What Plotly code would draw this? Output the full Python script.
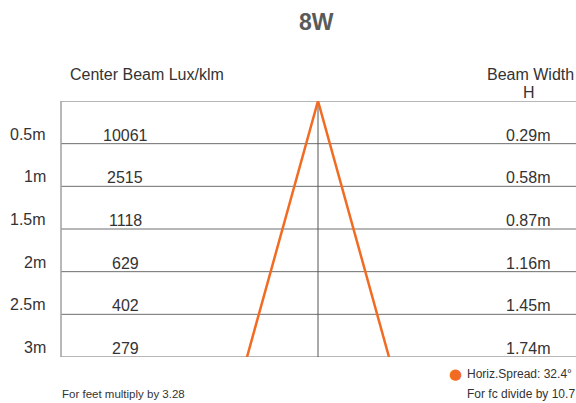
import plotly.graph_objects as go

title = "8W"
distances = [0.5, 1.0, 1.5, 2.0, 2.5, 3.0]
distance_labels = ["0.5m", "1m", "1.5m", "2m", "2.5m", "3m"]
lux_values = ["10061", "2515", "1118", "629", "402", "279"]
beam_widths = [0.29, 0.58, 0.87, 1.16, 1.45, 1.74]
beam_width_labels = ["0.29m", "0.58m", "0.87m", "1.16m", "1.45m", "1.74m"]
spread_label = "Horiz.Spread: 32.4°"

ORANGE = "#F26B22"
FONT = "Liberation Sans, Arial, sans-serif"
TXT = "#333333"

W, H = 576, 403
L, R, T, B = 61, 0, 101, 46
pw = W - L - R
ph = H - T - B

def px(x):
    return (x - L) / pw

def py(y):
    return 1 + (T - y) / ph

max_d = distances[-1]
half_w = beam_widths[-1] / 2

fig = go.Figure()
fig.add_trace(go.Scatter(
    x=[-half_w, 0, half_w],
    y=[max_d, 0, max_d],
    mode="lines",
    line=dict(color=ORANGE, width=2.5),
    showlegend=False,
    hoverinfo="skip",
))

shapes = []
for d in [0] + distances:
    shapes.append(dict(type="line", xref="paper", yref="y", x0=0, x1=1, y0=d, y1=d,
                       line=dict(color="#6e6e6e", width=1), layer="below"))
shapes.append(dict(type="line", xref="x", yref="y", x0=0, x1=0, y0=0, y1=max_d,
                   line=dict(color="#555555", width=1), layer="below"))
shapes.append(dict(type="line", xref="paper", yref="y", x0=0, x1=0, y0=0, y1=max_d,
                   line=dict(color="#a0a0a0", width=1.5), layer="below"))

ann = []
for d, dl, lv, bl in zip(distances, distance_labels, lux_values, beam_width_labels):
    ann.append(dict(text=dl, xref="paper", yref="y", x=px(48), y=d, xanchor="right",
                    yanchor="bottom", yshift=-1, showarrow=False, font=dict(size=16, color=TXT, family=FONT)))
    ann.append(dict(text=lv, xref="paper", yref="y", x=px(125), y=d, xanchor="center",
                    yanchor="bottom", yshift=-2, showarrow=False, font=dict(size=16, color=TXT, family=FONT)))
    ann.append(dict(text=bl, xref="paper", yref="y", x=px(552), y=d, xanchor="right",
                    yanchor="bottom", yshift=-2, showarrow=False, font=dict(size=16, color=TXT, family=FONT)))

ann += [
    dict(text="<b>" + title + "</b>", xref="paper", yref="paper", x=px(316), y=py(22),
         xanchor="center", yanchor="middle", showarrow=False,
         font=dict(size=23, color="#5a5a5a", family=FONT)),
    dict(text="Center Beam Lux/klm", xref="paper", yref="paper", x=px(147), y=py(74),
         xanchor="center", yanchor="middle", showarrow=False,
         font=dict(size=16, color=TXT, family=FONT)),
    dict(text="Beam Width", xref="paper", yref="paper", x=px(576), y=py(74),
         xanchor="right", yanchor="middle", showarrow=False,
         font=dict(size=16, color=TXT, family=FONT)),
    dict(text="H", xref="paper", yref="paper", x=px(529), y=py(92),
         xanchor="center", yanchor="middle", showarrow=False,
         font=dict(size=16, color=TXT, family=FONT)),
    dict(text="●", xref="paper", yref="paper", x=px(455), y=py(374),
         xanchor="center", yanchor="middle", showarrow=False,
         font=dict(size=15, color=ORANGE, family="DejaVu Sans")),
    dict(text=spread_label, xref="paper", yref="paper", x=px(465), y=py(374),
         xanchor="left", yanchor="middle", showarrow=False,
         font=dict(size=12, color=TXT, family=FONT)),
    dict(text="For feet multiply by 3.28", xref="paper", yref="paper", x=px(60), y=py(394),
         xanchor="left", yanchor="middle", showarrow=False,
         font=dict(size=11.5, color=TXT, family=FONT)),
    dict(text="For fc divide by 10.7", xref="paper", yref="paper", x=px(577), y=py(394),
         xanchor="right", yanchor="middle", showarrow=False,
         font=dict(size=12, color=TXT, family=FONT)),
]

x_per_px = half_w / 71.0
fig.update_layout(
    width=W, height=H,
    margin=dict(l=L, r=R, t=T, b=B),
    paper_bgcolor="white", plot_bgcolor="white",
    xaxis=dict(range=[-(318 - L) * x_per_px, (W - R - 318) * x_per_px], visible=False, fixedrange=True),
    yaxis=dict(range=[max_d, 0], visible=False, fixedrange=True),
    shapes=shapes, annotations=ann, showlegend=False,
)
fig.write_html("out.html", config={"displayModeBar": False},
               post_script="document.body.style.margin='0';document.body.style.overflow='hidden';")
